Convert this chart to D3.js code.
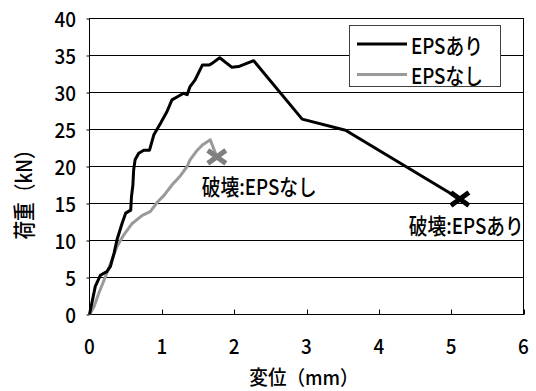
<!DOCTYPE html>
<html>
<head>
<meta charset="utf-8">
<script src="https://cdn.jsdelivr.net/npm/d3@7"></script>
<style>
  body { margin: 0; background: #fff; }
  svg { display: block; }
  text { font-family: "Noto Sans CJK JP", "Noto Sans", sans-serif; fill: #000; font-weight: 500; }
</style>
</head>
<body>
<svg id="chart" width="536" height="391"></svg>
<script>
// Load–displacement curves (displacement in mm, load in kN)
const dispWithEPS = [0, 0.08, 0.15, 0.24, 0.29, 0.34, 0.38, 0.45, 0.50, 0.57, 0.58, 0.60, 0.61, 0.63, 0.68, 0.75, 0.83, 0.89, 0.98, 1.07, 1.14, 1.21, 1.30, 1.35, 1.39, 1.46, 1.56, 1.65, 1.69, 1.80, 1.97, 2.06, 2.27, 2.94, 3.54, 5.12];
const loadWithEPS = [0, 3.8, 5.3, 5.8, 6.5, 8.3, 10.1, 12.3, 13.7, 14.1, 15.9, 17.5, 19.5, 20.9, 21.8, 22.2, 22.2, 24.3, 25.8, 27.4, 29.0, 29.4, 29.9, 29.7, 30.8, 31.7, 33.7, 33.7, 33.9, 34.7, 33.4, 33.5, 34.3, 26.4, 24.9, 15.6];
const dispNoEPS = [0, 0.06, 0.13, 0.22, 0.31, 0.38, 0.47, 0.59, 0.73, 0.84, 0.94, 1.03, 1.14, 1.26, 1.35, 1.39, 1.49, 1.56, 1.67, 1.76];
const loadNoEPS = [0, 1.0, 2.9, 5.1, 7.4, 9.2, 10.7, 12.3, 13.4, 13.9, 15.2, 16.1, 17.5, 18.8, 20.0, 20.9, 22.2, 22.9, 23.6, 21.3];

const seriesNames = ["EPSあり", "EPSなし"];
const failureLabels = ["破壊:EPSあり", "破壊:EPSなし"];
const xTicks = [0, 1, 2, 3, 4, 5, 6];
const yTicks = [0, 5, 10, 15, 20, 25, 30, 35, 40];
const xTitle = "変位（mm）";
const yTitle = "荷重（kN）";

const colors = { withEPS: "#000000", noEPS: "#9a9a9a", noEPSMark: "#808080" };
const svg = d3.select("#chart");
const L = 89.5, R = 523.5, T = 18.5, B = 314.5;
const x = d3.scaleLinear().domain([0, 6]).range([L, R]);
const y = d3.scaleLinear().domain([0, 40]).range([B, T]);

// text placed at (px, py), with horizontally narrowed glyphs
function label(parent, px, py, str, opts) {
  const o = Object.assign({ anchor: "start", size: 22, sx: 0.85, rot: 0 }, opts);
  return parent.append("text")
    .attr("transform", `translate(${px},${py})${o.rot ? ` rotate(${o.rot})` : ""} scale(${o.sx},1)`)
    .attr("text-anchor", o.anchor)
    .attr("dominant-baseline", "central")
    .style("font-size", o.size + "px")
    .text(str);
}

// horizontal gridlines
svg.append("g").selectAll("line").data(yTicks.filter(v => v > 0)).join("line")
  .attr("x1", L).attr("x2", R)
  .attr("y1", d => y(d)).attr("y2", d => y(d))
  .attr("stroke", "#000").attr("stroke-width", 1);

// plot frame
svg.append("rect").attr("x", L).attr("y", T).attr("width", R - L).attr("height", B - T)
  .attr("fill", "none").attr("stroke", "#000").attr("stroke-width", 1);

// axis ticks
const yAxis = svg.append("g").attr("transform", `translate(${L},0)`)
  .call(d3.axisLeft(y).tickValues(yTicks).tickSize(3).tickFormat(""));
const xAxis = svg.append("g").attr("transform", `translate(0,${B})`)
  .call(d3.axisBottom(x).tickValues(xTicks).tickSizeInner(-5).tickSizeOuter(0).tickFormat(""));
[xAxis, yAxis].forEach(a => {
  a.select(".domain").remove();
  a.selectAll(".tick line").attr("stroke", "#000");
});
xAxis.selectAll(".tick").attr("transform", d => `translate(${Math.round(x(d)) + 0.5},0)`);

// tick labels
const fmt = d3.format("d");
const tickOpts = { size: 21, sx: 0.9 };
yTicks.forEach(v => label(svg, 76, y(v), fmt(v), Object.assign({ anchor: "end" }, tickOpts)));
xTicks.forEach(v => label(svg, x(v), 345.5, fmt(v), Object.assign({ anchor: "middle" }, tickOpts)));

// curves
const line = d3.line().x(d => x(d[0])).y(d => y(d[1]));
const withEPS = d3.zip(dispWithEPS, loadWithEPS);
const noEPS = d3.zip(dispNoEPS, loadNoEPS);

svg.append("path").datum(noEPS).attr("d", line)
  .attr("fill", "none").attr("stroke", colors.noEPS).attr("stroke-width", 3).attr("stroke-linejoin", "round");
svg.append("path").datum(withEPS).attr("d", line)
  .attr("fill", "none").attr("stroke", colors.withEPS).attr("stroke-width", 3).attr("stroke-linejoin", "round");

// failure markers at the last point of each curve
const cross = "M-9,-6.5L9,6.5M-9,6.5L9,-6.5";
const failures = [
  { p: withEPS[withEPS.length - 1], color: colors.withEPS, text: failureLabels[0], dx: -51, dy: 25 },
  { p: noEPS[noEPS.length - 1], color: colors.noEPSMark, text: failureLabels[1], dx: -15, dy: 28 }
];
failures.forEach(f => {
  const cx = x(f.p[0]), cy = y(f.p[1]);
  svg.append("path").attr("d", cross).attr("transform", `translate(${cx},${cy})`)
    .attr("stroke", f.color).attr("stroke-width", 5).attr("fill", "none");
  label(svg, cx + f.dx, cy + f.dy, f.text);
});

// legend
const lg = svg.append("g");
lg.append("rect").attr("x", 349.5).attr("y", 25.5).attr("width", 151).attr("height", 61)
  .attr("fill", "#fff").attr("stroke", "#404040").attr("stroke-width", 1);
[colors.withEPS, colors.noEPS].forEach((c, i) => {
  const ly = 44 + i * 30.5;
  lg.append("line").attr("x1", 357).attr("x2", 407).attr("y1", ly).attr("y2", ly)
    .attr("stroke", c).attr("stroke-width", 3);
  label(lg, 411, ly, seriesNames[i]);
});

// axis titles
label(svg, 304, 376.5, xTitle, { anchor: "middle", size: 20, sx: 0.93 });
label(svg, 22, 190, yTitle, { anchor: "middle", rot: -90 });
</script>
</body>
</html>
